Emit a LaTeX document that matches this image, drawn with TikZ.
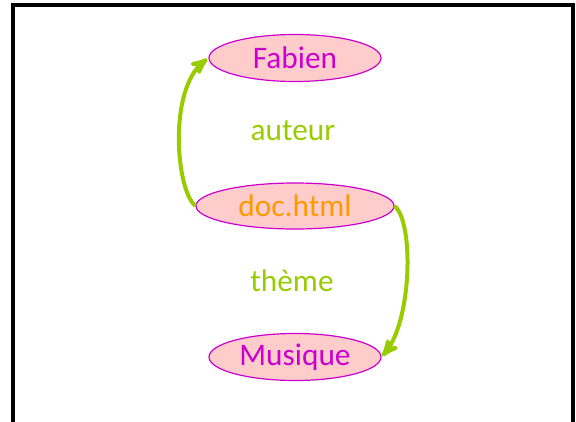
\documentclass[tikz,border=0pt]{standalone}
\usepackage{fontspec}
\setmainfont{Carlito}
\usetikzlibrary{arrows,shapes,positioning}

\definecolor{pinkfill}{RGB}{255,204,204}
\definecolor{magline}{RGB}{204,0,204}
\definecolor{relgreen}{RGB}{153,204,0}
\definecolor{docorange}{RGB}{255,153,0}

\tikzset{
  res/.style={ellipse, draw=magline, fill=pinkfill, line width=0.9pt,
              inner sep=0pt, font=\fontsize{23.5}{28}\selectfont},
  rel/.style={text=relgreen, font=\fontsize{23.5}{28}\selectfont},
  relarrow/.style={draw=relgreen, line width=3pt, -stealth', shorten >=1pt}
}

\begin{document}
\begin{tikzpicture}[x=0.75pt,y=-0.75pt]
    \useasboundingbox (0,0) rectangle (576,422);
    % Frame (open at the bottom)
    \draw[line width=2.4pt] (13,422) -- (13,5) -- (573,5) -- (573,422);

    % Resources
    \node[res, text=magline, minimum width=172*0.75pt, minimum height=47*0.75pt] (fabien) at (295,58) {Fabien};
    \node[res, text=docorange, minimum width=198*0.75pt, minimum height=46*0.75pt] (doc) at (295,206) {doc.html};
    \node[res, text=magline, minimum width=172*0.75pt, minimum height=47*0.75pt] (musique) at (295,357) {Musique};

    % Properties
    \node[rel] (auteur) at (293,131) {auteur};
    \node[rel] (theme) at (292,281) {thème};

    \draw[relarrow] (doc.west) .. controls (176,190) and (168,90) .. (fabien.west);
    \draw[relarrow] (doc.east) .. controls (414,222) and (412,320) .. (musique.east);
\end{tikzpicture}
\end{document}
